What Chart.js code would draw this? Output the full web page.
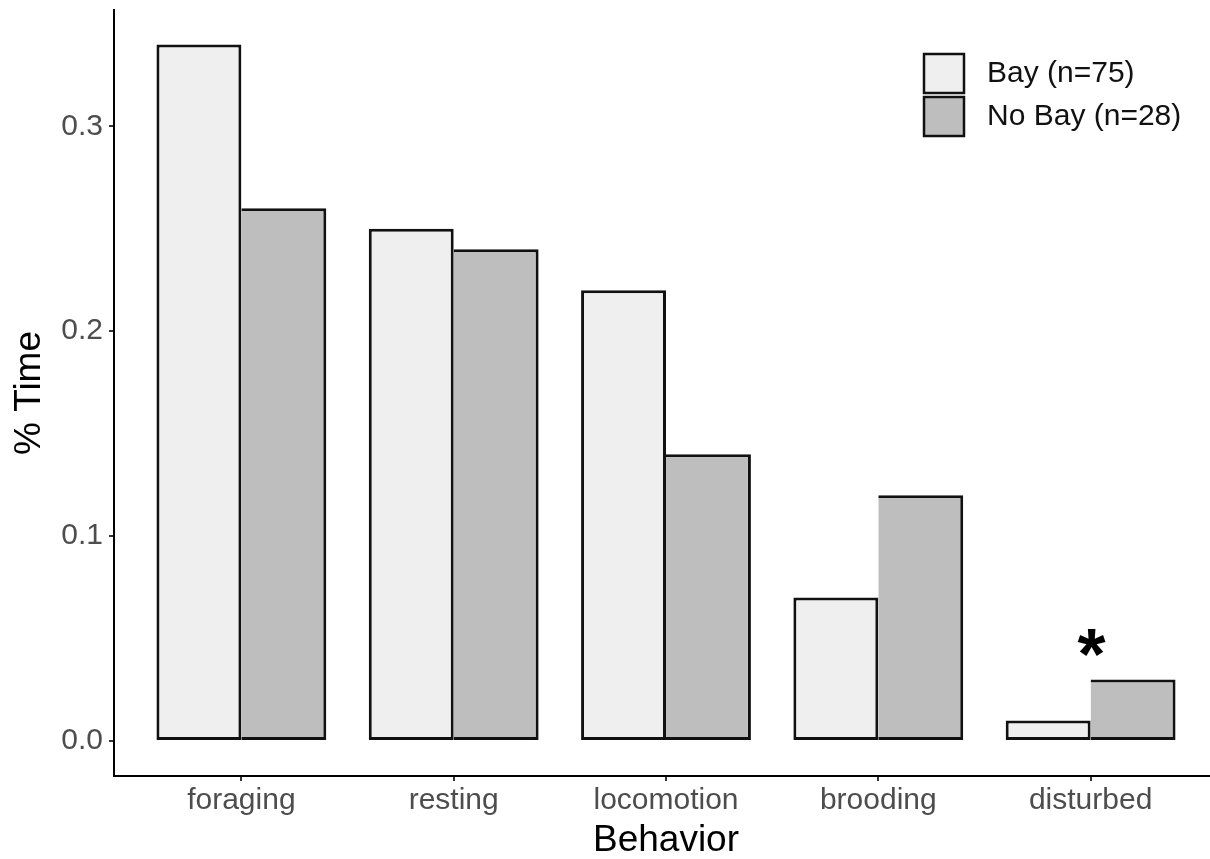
<!DOCTYPE html>
<html>
<head>
<meta charset="utf-8">
<script src="https://cdn.jsdelivr.net/npm/chart.js@4.4.1/dist/chart.umd.min.js"></script>
<style>
  html, body { margin: 0; padding: 0; background: #fff; overflow: hidden; }
  #wrap { position: relative; width: 1222px; height: 859px; }
</style>
</head>
<body>
<div id="wrap"><canvas id="chart"></canvas></div>
<script>
// valeurs
const behaviors = ["foraging", "resting", "locomotion", "brooding", "disturbed"];
const bayTime = [0.34, 0.25, 0.22, 0.07, 0.01];
const noBayTime = [0.26, 0.24, 0.14, 0.12, 0.03];
const seriesNames = ["Bay (n=75)", "No Bay (n=28)"];
const seriesColors = ["#efefef", "#bebebe"];
const yTicks = [0.0, 0.1, 0.2, 0.3];
const significance = ["", "", "", "", "*"];

const FONT = "'Liberation Sans', Arial, sans-serif";
Chart.defaults.font.family = FONT;

// asterisque + legende dessinees a la main (style ggplot)
const extras = {
  id: "extras",
  afterDatasetsDraw(chart) {
    const { ctx, scales: { x, y } } = chart;
    ctx.save();
    ctx.font = "bold 72px " + FONT;
    ctx.fillStyle = "#000";
    ctx.textAlign = "center";
    ctx.textBaseline = "alphabetic";
    significance.forEach((s, i) => {
      if (!s) return;
      const m = ctx.measureText(s);
      const cy = y.getPixelForValue(Math.max(bayTime[i], noBayTime[i]) + 0.018);
      ctx.fillText(s, x.getPixelForValue(i + 1) + 1, cy + (m.actualBoundingBoxAscent - m.actualBoundingBoxDescent) / 2);
    });

    ctx.font = "30px " + FONT;
    ctx.textAlign = "left";
    ctx.textBaseline = "middle";
    ctx.lineWidth = 2.5;
    ctx.strokeStyle = "#111";
    seriesNames.forEach((name, i) => {
      const top = 54 + i * 43;
      ctx.fillStyle = seriesColors[i];
      ctx.fillRect(924, top, 40, 39);
      ctx.strokeRect(924, top, 40, 39);
      ctx.fillStyle = "#111";
      ctx.fillText(name, 987, top + 20);
    });
    ctx.restore();
  }
};

const ds = (i, values, bw) => ({
  label: seriesNames[i],
  data: values.map((v, k) => ({ x: k + 1, y: v })),
  backgroundColor: seriesColors[i],
  borderColor: "#111",
  borderWidth: bw,
  borderSkipped: false,
  inflateAmount: 0
});

const noPad = s => { s.paddingTop = 0; s.paddingBottom = 0; s.paddingLeft = 0; s.paddingRight = 0; };

new Chart(document.getElementById("chart"), {
  type: "bar",
  data: {
    datasets: [
      ds(0, bayTime, 3),
      ds(1, noBayTime, { top: 3, left: 0, bottom: 3, right: 3 })
    ]
  },
  options: {
    responsive: true,
    maintainAspectRatio: false,
    animation: false,
    categoryPercentage: 0.8,
    barPercentage: 1,
    layout: { padding: { top: 10, right: 4, left: 0, bottom: 0 } },
    plugins: { legend: { display: false }, tooltip: { enabled: false } },
    scales: {
      x: {
        type: "linear",
        min: 0.4,
        max: 5.6,
        offset: false,
        afterBuildTicks: s => { s.ticks = behaviors.map((b, i) => ({ value: i + 1 })); },
        afterFit: s => { s.height = 83; noPad(s); },
        ticks: { callback: v => behaviors[v - 1], color: "#4d4d4d", font: { size: 30 }, padding: 2, autoSkip: false, maxRotation: 0 },
        grid: { display: true, offset: false, drawOnChartArea: false, drawTicks: true, tickLength: 5, color: "#333", lineWidth: 2 },
        border: { display: true, color: "#000", width: 2 },
        title: { display: true, text: "Behavior", color: "#000", font: { size: 37, lineHeight: 1 }, padding: { top: 0, bottom: 0 } }
      },
      y: {
        min: -0.0171,
        max: 0.3568,
        afterBuildTicks: s => { s.ticks = yTicks.map(v => ({ value: v })); },
        afterFit: s => { s.width = 114; noPad(s); },
        ticks: { callback: v => v.toFixed(1), color: "#4d4d4d", font: { size: 30 }, padding: 6 },
        grid: { display: true, drawOnChartArea: false, drawTicks: true, tickLength: 5, color: "#333", lineWidth: 2 },
        border: { display: true, color: "#000", width: 2 },
        title: { display: true, text: "% Time", color: "#000", font: { size: 37, lineHeight: 1 }, padding: { top: 11, bottom: 0 } }
      }
    }
  },
  plugins: [extras]
});
</script>
</body>
</html>
